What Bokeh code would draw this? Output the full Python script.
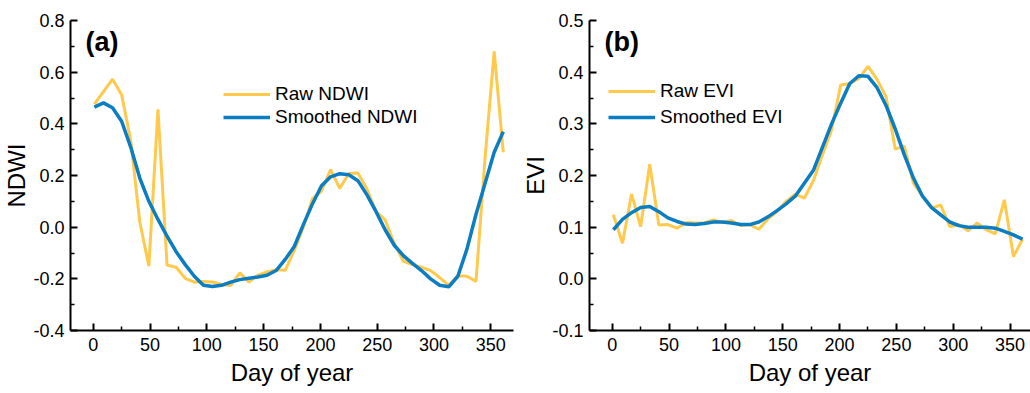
from bokeh.plotting import figure
from bokeh.layouts import row
from bokeh.models import Range1d, FixedTicker, PrintfTickFormatter, Legend, LegendItem, Label
from bokeh.embed import file_html
from bokeh.resources import INLINE

# ---------------- data ----------------
days = [1, 9, 17, 25, 33, 41, 49, 57, 65, 73, 81, 89, 97, 105, 113, 121,
        129, 137, 145, 153, 161, 169, 177, 185, 193, 201, 209, 217, 225,
        233, 241, 249, 257, 265, 273, 281, 289, 297, 305, 313, 321, 329,
        337, 345, 353, 361]

raw_ndwi = [0.476, 0.525, 0.573, 0.513, 0.336, 0.02, -0.151, 0.456, -0.147,
            -0.155, -0.198, -0.213, -0.21, -0.212, -0.222, -0.226, -0.177,
            -0.212, -0.186, -0.173, -0.165, -0.167, -0.09, 0.0, 0.11, 0.14,
            0.223, 0.15, 0.208, 0.21, 0.148, 0.06, 0.028, -0.062, -0.132,
            -0.145, -0.155, -0.168, -0.195, -0.225, -0.188, -0.19, -0.21,
            0.27, 0.68, 0.29]

smooth_ndwi = [0.465, 0.481, 0.462, 0.41, 0.31, 0.19, 0.1, 0.03, -0.035,
               -0.095, -0.145, -0.19, -0.225, -0.23, -0.225, -0.213, -0.203,
               -0.198, -0.193, -0.186, -0.168, -0.125, -0.075, 0.01, 0.09,
               0.16, 0.195, 0.207, 0.203, 0.18, 0.125, 0.06, -0.01, -0.07,
               -0.11, -0.14, -0.168, -0.2, -0.225, -0.231, -0.19, -0.085,
               0.05, 0.17, 0.29, 0.37]

raw_evi = [0.124, 0.069, 0.164, 0.101, 0.222, 0.104, 0.105, 0.098, 0.109,
           0.108, 0.108, 0.114, 0.109, 0.113, 0.103, 0.105, 0.096, 0.116,
           0.13, 0.15, 0.164, 0.156, 0.19, 0.24, 0.288, 0.375, 0.378, 0.388,
           0.411, 0.386, 0.352, 0.251, 0.257, 0.185, 0.16, 0.137, 0.143,
           0.101, 0.105, 0.093, 0.108, 0.095, 0.087, 0.153, 0.043, 0.077]

smooth_evi = [0.095, 0.115, 0.128, 0.138, 0.14, 0.13, 0.118, 0.111, 0.106,
              0.105, 0.107, 0.11, 0.11, 0.108, 0.105, 0.105, 0.11, 0.12,
              0.132, 0.145, 0.16, 0.185, 0.21, 0.255, 0.3, 0.34, 0.378,
              0.393, 0.392, 0.37, 0.335, 0.29, 0.24, 0.195, 0.16, 0.138,
              0.124, 0.11, 0.103, 0.1, 0.1, 0.1, 0.098, 0.092, 0.085, 0.077]

x_ticks = [0, 50, 100, 150, 200, 250, 300, 350]
x_minor = [25, 75, 125, 175, 225, 275, 325]
ndwi_ticks = [-0.4, -0.2, 0.0, 0.2, 0.4, 0.6, 0.8]
ndwi_minor = [-0.3, -0.1, 0.1, 0.3, 0.5, 0.7]
evi_ticks = [-0.1, 0.0, 0.1, 0.2, 0.3, 0.4, 0.5]
evi_minor = [-0.05, 0.05, 0.15, 0.25, 0.35, 0.45]

YELLOW = "#FFC94B"
BLUE = "#0B7DC3"
FONT = "Liberation Sans"


def make_panel(width, bl, br, x_end, y_rng, yticks, yminor, ylabel,
               raw, smooth, raw_label, smooth_label, leg_loc, leg_spacing, tag):
    p = figure(width=width, height=393, x_range=Range1d(-20, x_end),
               y_range=Range1d(*y_rng), output_backend="svg",
               toolbar_location=None, min_border_left=bl, min_border_right=br,
               min_border_top=20, min_border_bottom=63)
    p.xgrid.visible = False
    p.ygrid.visible = False
    p.outline_line_color = None
    p.background_fill_color = "white"
    p.border_fill_color = "white"

    r1 = p.line(days, raw, line_color=YELLOW, line_width=3)
    r2 = p.line(days, smooth, line_color=BLUE, line_width=3.5)

    p.xaxis.ticker = FixedTicker(ticks=x_ticks, minor_ticks=x_minor)
    p.yaxis.ticker = FixedTicker(ticks=yticks, minor_ticks=yminor)
    p.yaxis.formatter = PrintfTickFormatter(format="%.1f")
    p.xaxis.axis_label = "Day of year"
    p.yaxis.axis_label = ylabel
    for ax in (p.xaxis, p.yaxis):
        ax.axis_line_width = 2
        ax.axis_line_color = "black"
        ax.major_tick_in = 7
        ax.major_tick_out = 0
        ax.minor_tick_in = 4
        ax.minor_tick_out = 0
        ax.major_tick_line_width = 2
        ax.minor_tick_line_width = 1.5
        ax.major_label_text_font = FONT
        ax.major_label_text_font_size = "18px"
        ax.major_label_text_color = "black"
        ax.axis_label_text_font = FONT
        ax.axis_label_text_font_size = "24px"
        ax.axis_label_text_font_style = "normal"
        ax.axis_label_text_color = "black"
    p.xaxis.major_label_standoff = 7
    p.xaxis.axis_label_standoff = 5
    p.yaxis.major_label_standoff = 6
    p.yaxis.axis_label_standoff = 0

    legend = Legend(items=[LegendItem(label=raw_label, renderers=[r1]),
                           LegendItem(label=smooth_label, renderers=[r2])],
                    location=leg_loc, border_line_color=None,
                    background_fill_alpha=0, padding=0, margin=0,
                    spacing=leg_spacing, glyph_width=47, glyph_height=20,
                    label_height=20, label_standoff=5, label_text_font=FONT,
                    label_text_font_size="19px", label_text_color="black")
    p.add_layout(legend)

    p.add_layout(Label(x=15, y=289, x_units="screen", y_units="screen",
                       text=tag, text_font=FONT, text_font_size="27px",
                       text_font_style="bold", text_baseline="middle",
                       text_color="black"))
    return p


pa = make_panel(519, 70, 6, 370, (-0.4, 0.8), ndwi_ticks, ndwi_minor, "NDWI",
                raw_ndwi, smooth_ndwi, "Raw NDWI", "Smoothed NDWI",
                (153, 202), 1, "(a)")
pb = make_panel(511, 70, 0, 368, (-0.1, 0.5), evi_ticks, evi_minor, "EVI",
                raw_evi, smooth_evi, "Raw EVI", "Smoothed EVI",
                (19, 202), 4, "(b)")

layout = row(pa, pb)
open("out.html", "w").write(file_html(layout, INLINE))
